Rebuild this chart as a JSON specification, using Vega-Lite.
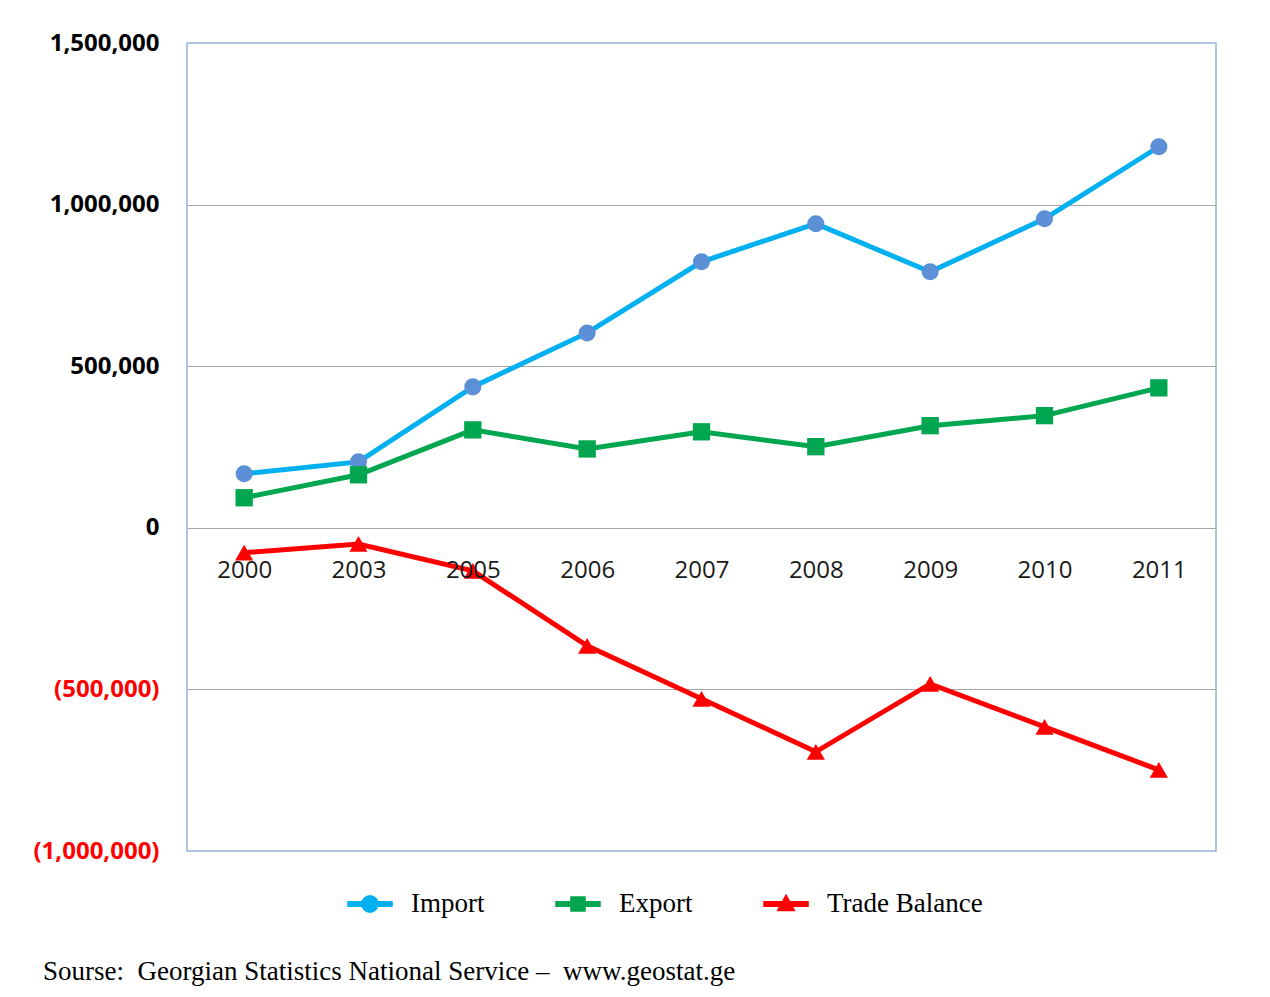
{
  "$schema": "https://vega.github.io/schema/vega-lite/v6.json",
  "autosize": "none",
  "width": 1029,
  "height": 808,
  "padding": {"left": 187, "top": 43, "right": 54, "bottom": 146},
  "background": "white",
  "config": {
    "view": {"stroke": "#95B3D7", "strokeWidth": 1.5},
    "axis": {"grid": true, "gridColor": "#A6A6A6", "gridWidth": 1, "domain": false, "ticks": false}
  },
  "title": {
    "text": "Sourse:\u00a0 Georgian Statistics National Service –\u00a0 www.geostat.ge",
    "orient": "bottom",
    "anchor": "start",
    "frame": "group",
    "font": "Liberation Serif",
    "fontSize": 27,
    "fontWeight": "normal",
    "color": "#000000",
    "dx": -144,
    "offset": 42
  },
  "data": {
    "values": [
      {"year": "2000", "series": "Import", "value": 167000},
      {"year": "2003", "series": "Import", "value": 204000},
      {"year": "2005", "series": "Import", "value": 436000},
      {"year": "2006", "series": "Import", "value": 603000},
      {"year": "2007", "series": "Import", "value": 823000},
      {"year": "2008", "series": "Import", "value": 941000},
      {"year": "2009", "series": "Import", "value": 792000},
      {"year": "2010", "series": "Import", "value": 956000},
      {"year": "2011", "series": "Import", "value": 1179000},
      {"year": "2000", "series": "Export", "value": 93000},
      {"year": "2003", "series": "Export", "value": 164000},
      {"year": "2005", "series": "Export", "value": 303000},
      {"year": "2006", "series": "Export", "value": 244000},
      {"year": "2007", "series": "Export", "value": 297000},
      {"year": "2008", "series": "Export", "value": 251000},
      {"year": "2009", "series": "Export", "value": 316000},
      {"year": "2010", "series": "Export", "value": 347000},
      {"year": "2011", "series": "Export", "value": 433000},
      {"year": "2000", "series": "Trade Balance", "value": -77000},
      {"year": "2003", "series": "Trade Balance", "value": -50000},
      {"year": "2005", "series": "Trade Balance", "value": -133000},
      {"year": "2006", "series": "Trade Balance", "value": -365000},
      {"year": "2007", "series": "Trade Balance", "value": -529000},
      {"year": "2008", "series": "Trade Balance", "value": -693000},
      {"year": "2009", "series": "Trade Balance", "value": -483000},
      {"year": "2010", "series": "Trade Balance", "value": -616000},
      {"year": "2011", "series": "Trade Balance", "value": -749000}
    ]
  },
  "encoding": {
    "x": {
      "field": "year", "type": "nominal", "sort": null,
      "scale": {"type": "point", "padding": 0.5},
      "axis": {
        "title": null, "grid": false, "labelAngle": 0, "offset": -324, "labelPadding": 31,
        "labelFont": "Open Sans", "labelFontSize": 24, "labelColor": "#1a1a1a", "zindex": 2
      }
    },
    "y": {
      "field": "value", "type": "quantitative",
      "scale": {"domain": [-1000000, 1500000], "nice": false, "zero": false},
      "axis": {
        "title": null,
        "values": [-1000000, -500000, 0, 500000, 1000000, 1500000],
        "labelExpr": "datum.value < 0 ? '(' + format(-datum.value, ',') + ')' : format(datum.value, ',')",
        "labelColor": {"expr": "datum.value < 0 ? '#FF0000' : '#000000'"},
        "labelFont": "Open Sans", "labelFontWeight": "bold", "labelFontSize": 24,
        "labelPadding": 28,
        "gridColor": {"expr": "datum.value == 1500000 || datum.value == -1000000 ? 'transparent' : '#A6A6A6'"}
      }
    }
  },
  "layer": [
    {
      "mark": {"type": "point", "filled": true, "size": 0, "opacity": 1},
      "encoding": {
        "color": {
          "field": "series", "type": "nominal", "title": null,
          "scale": {"domain": ["Import", "Export", "Trade Balance"], "range": ["#00B0F0", "#00A650", "#FF0000"]},
          "legend": {
            "orient": "none", "legendX": 160, "legendY": 838, "direction": "horizontal",
            "symbolSize": 1936,
            "labelFont": "Liberation Serif", "labelFontSize": 27, "labelColor": "#000000",
            "labelOffset": 18, "columnPadding": 68, "labelLimit": 300
          }
        },
        "shape": {
          "field": "series", "type": "nominal", "title": null,
          "scale": {
            "domain": ["Import", "Export", "Trade Balance"],
            "range": [
              "M-1,-0.1H1V0.1H-1Z M0.37,0A0.37,0.37 0 1 1 -0.37,0A0.37,0.37 0 1 1 0.37,0Z",
              "M-1,-0.1H1V0.1H-1Z M-0.32,-0.32H0.32V0.32H-0.32Z",
              "M-1,-0.1H1V0.1H-1Z M0,-0.4L0.38,0.3L-0.38,0.3Z"
            ]
          }
        }
      }
    },
    {
      "mark": {"type": "line", "strokeWidth": 5},
      "encoding": {
        "stroke": {
          "field": "series", "type": "nominal",
          "scale": {"domain": ["Import", "Export", "Trade Balance"], "range": ["#00B0F0", "#00A650", "#FF0000"]},
          "legend": null
        },
        "detail": {"field": "series"}
      }
    },
    {
      "transform": [{"filter": "datum.series == 'Import'"}],
      "mark": {"type": "point", "shape": "circle", "filled": true, "opacity": 1, "size": 290, "color": "#5B8FD6"}
    },
    {
      "transform": [{"filter": "datum.series == 'Export'"}],
      "mark": {"type": "point", "shape": "square", "filled": true, "opacity": 1, "size": 300, "color": "#00A650"}
    },
    {
      "transform": [{"filter": "datum.series == 'Trade Balance'"}],
      "mark": {"type": "point", "shape": "triangle-up", "filled": true, "opacity": 1, "size": 330, "color": "#FF0000"}
    }
  ]
}
